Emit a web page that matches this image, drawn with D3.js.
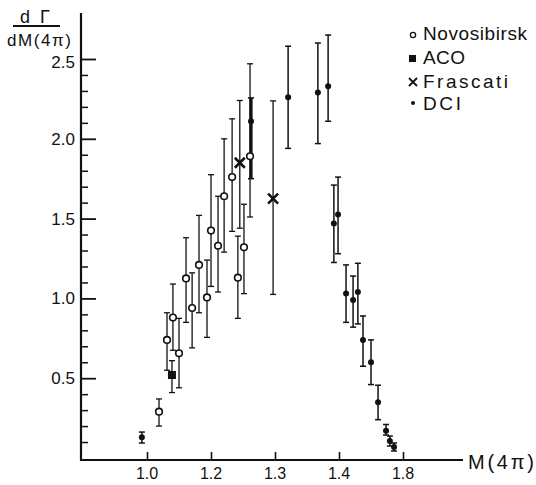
<!DOCTYPE html>
<html>
<head>
<meta charset="utf-8">
<script src="https://cdn.jsdelivr.net/npm/d3@7"></script>
<style>
  html, body { margin: 0; padding: 0; background: #fff; }
  svg { display: block; }
  text { font-family: "Liberation Sans", Arial, sans-serif; fill: #111; }
</style>
</head>
<body>
<svg id="chart" width="536" height="485"></svg>
<script>
// ---- data (M in the axis' linear units, value, error low, error high) ----
const novosibirskM  = [1.0375, 1.0625, 1.081, 1.100, 1.122, 1.141, 1.1625, 1.1875, 1.200, 1.222, 1.241, 1.266, 1.284, 1.303, 1.322];
const novosibirskV  = [0.29, 0.74, 0.88, 0.656, 1.125, 0.94, 1.21, 1.006, 1.425, 1.33, 1.64, 1.76, 1.13, 1.32, 1.89];
const novosibirskLo = [0.20, 0.55, 0.675, 0.44, 0.85, 0.69, 0.91, 0.756, 1.075, 1.04, 1.29, 1.42, 0.875, 1.03, 1.51];
const novosibirskHi = [0.37, 0.91, 1.09, 0.875, 1.38, 1.16, 1.52, 1.24, 1.775, 1.64, 2.00, 2.125, 1.39, 1.59, 2.47];

const acoM  = [1.078];
const acoV  = [0.52];
const acoLo = [0.41];
const acoHi = [0.61];

const frascatiM  = [1.290, 1.394];
const frascatiV  = [1.85, 1.625];
const frascatiLo = [1.44, 1.025];
const frascatiHi = [2.24, 2.2375];

const dciM  = [0.984, 1.325, 1.441, 1.534, 1.566, 1.584, 1.597, 1.622, 1.644, 1.659, 1.675, 1.700, 1.722, 1.747, 1.759, 1.772];
const dciV  = [0.13, 2.11, 2.26, 2.29, 2.33, 1.47, 1.525, 1.03, 0.99, 1.04, 0.74, 0.60, 0.35, 0.17, 0.106, 0.069];
const dciLo = [0.094, 1.75, 1.94, 1.97, 2.11, 1.225, 1.28, 0.85, 0.82, 0.84, 0.575, 0.46, 0.24, 0.144, 0.075, 0.044];
const dciHi = [0.1625, 2.256, 2.58, 2.60, 2.65, 1.71, 1.76, 1.21, 1.14, 1.22, 0.89, 0.74, 0.456, 0.21, 0.1375, 0.094];
// inner (statistical) band of the DCI point near the peak
const dciBandM  = [1.325];
const dciBandLo = [1.75];
const dciBandHi = [2.256];

const xTickValues = [1.0, 1.2, 1.4, 1.6, 1.8];
const xTickLabels = ["1.0", "1.2", "1.3", "1.4", "1.8"];
const yMajorTicks = [0.5, 1.0, 1.5, 2.0, 2.5];
const yTickLabels = ["0.5", "1.0", "1.5", "2.0", "2.5"];
const yMinorTicks = [0.1,0.2,0.3,0.4,0.6,0.7,0.8,0.9,1.1,1.2,1.3,1.4,1.6,1.7,1.8,1.9,2.1,2.2,2.3,2.4];

const legendLabels = ["Novosibirsk", "ACO", "Frascati", "DCI"];
const xAxisTitle = "M(4\u03c0)";
const yTitleTop = "d\u0393";
const yTitleBottom = "dM(4\u03c0)";

// ---- drawing ----
const svg = d3.select("#chart");
const ink = "#111";

const x = d3.scaleLinear().domain([1.0, 1.8]).range([147, 403]);
const y = d3.scaleLinear().domain([0, 2.5]).range([458, 59]);

const axisX0 = 81, axisY0 = 460, axisXEnd = 463, axisYTop = 13;

// y axis
const yAxis = d3.axisRight(y)
  .tickValues(yMajorTicks)
  .tickSize(15)
  .tickFormat(() => "");
const gY = svg.append("g").attr("transform", `translate(${axisX0},0)`).call(yAxis);
gY.select(".domain").remove();
gY.selectAll(".tick line").attr("stroke", ink).attr("stroke-width", 1.8);

const yMinor = d3.axisRight(y).tickValues(yMinorTicks).tickSize(7).tickFormat(() => "");
const gYm = svg.append("g").attr("transform", `translate(${axisX0},0)`).call(yMinor);
gYm.select(".domain").remove();
gYm.selectAll(".tick line").attr("stroke", ink).attr("stroke-width", 1.5);

svg.append("line").attr("x1", axisX0).attr("x2", axisX0).attr("y1", axisYTop).attr("y2", axisY0 + 1)
  .attr("stroke", ink).attr("stroke-width", 2.2);

svg.append("g").selectAll("text").data(yMajorTicks).join("text")
  .attr("x", 75).attr("y", d => y(d) + 6 + (d === 2.5 ? 3 : 0))
  .attr("text-anchor", "end").attr("font-size", 17)
  .text((d, i) => yTickLabels[i]);

// x axis
const xAxis = d3.axisTop(x).tickValues(xTickValues).tickSize(8).tickFormat(() => "");
const gX = svg.append("g").attr("transform", `translate(0,${axisY0})`).call(xAxis);
gX.select(".domain").remove();
gX.selectAll(".tick line").attr("stroke", ink).attr("stroke-width", 1.6);

svg.append("line").attr("x1", axisX0).attr("x2", axisXEnd).attr("y1", axisY0).attr("y2", axisY0)
  .attr("stroke", ink).attr("stroke-width", 2);

svg.append("g").selectAll("text").data(xTickValues).join("text")
  .attr("x", d => x(d)).attr("y", 479)
  .attr("text-anchor", "middle").attr("font-size", 16)
  .text((d, i) => xTickLabels[i]);

svg.append("text").attr("x", 468).attr("y", 469).attr("font-size", 20)
  .attr("textLength", 66).attr("lengthAdjust", "spacing").text(xAxisTitle);

// y title (fraction)
svg.append("text").attr("x", 20).attr("y", 23).attr("font-size", 18)
  .attr("textLength", 30).attr("lengthAdjust", "spacing").text(yTitleTop);
svg.append("line").attr("x1", 13).attr("x2", 60).attr("y1", 26).attr("y2", 26)
  .attr("stroke", ink).attr("stroke-width", 2);
svg.append("text").attr("x", 7).attr("y", 46).attr("font-size", 17)
  .attr("textLength", 64).attr("lengthAdjust", "spacing").text(yTitleBottom);

// error bars helper
function errorBars(ms, lo, hi, width, cap) {
  const g = svg.append("g").attr("stroke", ink).attr("stroke-width", width);
  const idx = d3.range(ms.length);
  g.selectAll("line.v").data(idx).join("line").attr("class", "v")
    .attr("x1", i => x(ms[i])).attr("x2", i => x(ms[i]))
    .attr("y1", i => y(lo[i])).attr("y2", i => y(hi[i]));
  if (cap > 0) {
    g.selectAll("line.t").data(idx).join("line").attr("class", "t")
      .attr("x1", i => x(ms[i]) - cap).attr("x2", i => x(ms[i]) + cap)
      .attr("y1", i => y(hi[i])).attr("y2", i => y(hi[i]));
    g.selectAll("line.b").data(idx).join("line").attr("class", "b")
      .attr("x1", i => x(ms[i]) - cap).attr("x2", i => x(ms[i]) + cap)
      .attr("y1", i => y(lo[i])).attr("y2", i => y(lo[i]));
  }
}

errorBars(novosibirskM, novosibirskLo, novosibirskHi, 1.3, 3);
errorBars(acoM, acoLo, acoHi, 1.3, 3);
errorBars(frascatiM, frascatiLo, frascatiHi, 1.3, 3);
errorBars(dciM, dciLo, dciHi, 1.5, 3);
errorBars(dciBandM, dciBandLo, dciBandHi, 3.2, 0);

// markers
svg.append("g").selectAll("circle").data(d3.range(novosibirskM.length)).join("circle")
  .attr("cx", i => x(novosibirskM[i])).attr("cy", i => y(novosibirskV[i])).attr("r", 3.3)
  .attr("fill", "#fff").attr("stroke", ink).attr("stroke-width", 1.6);

svg.append("g").selectAll("rect").data(d3.range(acoM.length)).join("rect")
  .attr("x", i => x(acoM[i]) - 4).attr("y", i => y(acoV[i]) - 4)
  .attr("width", 8).attr("height", 8).attr("fill", ink);

const xSym = 5;
svg.append("g").selectAll("path").data(d3.range(frascatiM.length)).join("path")
  .attr("d", i => {
    const cx = x(frascatiM[i]), cy = y(frascatiV[i]);
    return `M${cx - xSym},${cy - xSym}L${cx + xSym},${cy + xSym}M${cx - xSym},${cy + xSym}L${cx + xSym},${cy - xSym}`;
  })
  .attr("stroke", ink).attr("stroke-width", 2.6).attr("fill", "none");

svg.append("g").selectAll("circle").data(d3.range(dciM.length)).join("circle")
  .attr("cx", i => x(dciM[i])).attr("cy", i => y(dciV[i])).attr("r", 3)
  .attr("fill", ink);

// legend
const legendY = [40, 64, 88, 110];
const legendW = [104, 42, 85, 38];
const lg = svg.append("g");
lg.selectAll("text").data(legendLabels).join("text")
  .attr("x", 423).attr("y", (d, i) => legendY[i]).attr("font-size", 19)
  .attr("textLength", (d, i) => legendW[i]).attr("lengthAdjust", "spacing")
  .text(d => d);
lg.append("circle").attr("cx", 413).attr("cy", legendY[0] - 5).attr("r", 2.6)
  .attr("fill", "#fff").attr("stroke", ink).attr("stroke-width", 1.3);
lg.append("rect").attr("x", 409).attr("y", legendY[1] - 9).attr("width", 7).attr("height", 7).attr("fill", ink);
lg.append("path")
  .attr("d", `M409,${legendY[2] - 10}L417,${legendY[2] - 2}M409,${legendY[2] - 2}L417,${legendY[2] - 10}`)
  .attr("stroke", ink).attr("stroke-width", 1.8);
lg.append("circle").attr("cx", 413).attr("cy", legendY[3] - 7).attr("r", 2).attr("fill", ink);
</script>
</body>
</html>
